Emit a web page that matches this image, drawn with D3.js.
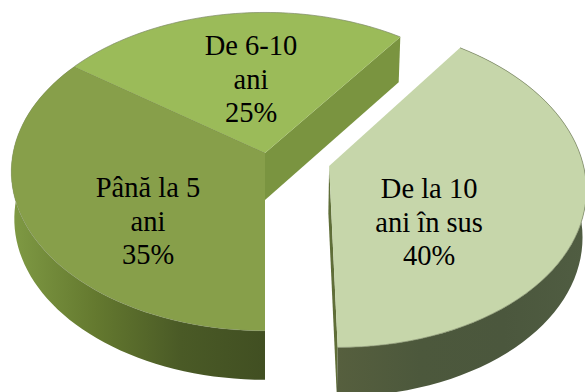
<html>
<head>
<meta charset="utf-8">
<style>
    body { margin: 0; background: #fff; overflow: hidden; }
    svg { display: block; }
    text { font-family: "Liberation Serif", serif; font-size: 28.5px; fill: #000; text-anchor: middle; }
</style>
</head>
<body>
<script src="https://d3js.org/d3.v7.min.js"></script>
<script>
// chart values, clockwise from the exploded slice
var labels = [["De la 10", "ani în sus"], ["Până la 5", "ani"], ["De 6-10", "ani"]];
var values = [40, 35, 25];
var explode = [0.265, 0, 0];

// colours per slice
var topColors = ["#c6d6aa", "#879f4a", "#9bbb59"];
var wallColors = ["#5f6e38", "#5f6e38", "#7a9440"];
var sideStops = [["#565f3e", "#4c583c", "#4b573d", "#505d42"],
                 ["#414f22", "#4a5a26", "#64792f", "#7f9a44"],
                 ["#7a9440", "#7a9440", "#7a9440", "#7a9440"]];

// label offset from each slice apex
var labelOffset = [[100, 54], [-117, 66], [-14, -76]];

var width = 585, height = 392;
var cx = 265, cy = 153, rx = 252, ry = 157, persp = 0.117;

var svg = d3.select("body").append("svg").attr("width", width).attr("height", height);
var defs = svg.append("defs");

var pie = d3.pie().sort(null).startAngle(Math.PI / 5).endAngle(Math.PI / 5 + 2 * Math.PI);
var slices = pie(values);

// perspective projection of a point on the pie plane, z is 0 on top and 1 at the base
function project(px, py, z) {
    var w = 1 + persp * py;
    return [cx + rx * px / w * (1 - 0.012 * z), cy - ry * py / w + z * (47 - 2 * py)];
}

function rimPoints(d, i, z) {
    var mid = (d.startAngle + d.endAngle) / 2;
    var ox = explode[i] * Math.sin(mid), oy = explode[i] * Math.cos(mid);
    return d3.range(0, 61).map(function(k) {
        var a = d.startAngle + (d.endAngle - d.startAngle) * k / 60;
        return project(ox + Math.sin(a), oy + Math.cos(a), z);
    });
}

function apex(d, i, z) {
    var mid = (d.startAngle + d.endAngle) / 2;
    return project(explode[i] * Math.sin(mid), explode[i] * Math.cos(mid), z);
}

var line = d3.line();
var draw = [2, 1, 0]; // back slice first

draw.forEach(function(i) {
    var d = slices[i];
    var topRim = rimPoints(d, i, 0), baseRim = rimPoints(d, i, 1);
    var a0 = apex(d, i, 0), a1 = apex(d, i, 1);
    var g = svg.append("g").attr("class", "slice");

    // side gradient runs across the rim
    var xs = d3.extent(topRim, function(p) { return p[0]; });
    var grad = defs.append("linearGradient").attr("id", "side" + i)
        .attr("gradientUnits", "userSpaceOnUse")
        .attr("x1", i == 1 ? xs[1] : xs[0]).attr("x2", i == 1 ? xs[0] : xs[1])
        .attr("y1", 0).attr("y2", 0);
    sideStops[i].forEach(function(c, k) {
        grad.append("stop").attr("offset", k / 3).attr("stop-color", c);
    });

    // cut wall at the end of the slice
    g.append("path")
        .attr("d", line([a0, topRim[60], baseRim[60], a1]) + "Z")
        .attr("fill", wallColors[i]);

    // outer wall, the back slice has none in view
    if (i != 2) {
        g.append("path")
            .attr("d", line(topRim.concat(baseRim.slice().reverse())) + "Z")
            .attr("fill", "url(#side" + i + ")");
    }

    // top face
    g.append("path")
        .attr("d", line([a0].concat(topRim)) + "Z")
        .attr("fill", topColors[i]);
    g.append("path")
        .attr("d", line(topRim))
        .attr("fill", "none")
        .attr("stroke", "#7f8a68")
        .attr("stroke-opacity", i == 1 ? 0.35 : 0.7);
});

// labels
slices.forEach(function(d, i) {
    var a = apex(d, i, 0);
    var t = svg.append("text")
        .attr("x", a[0] + labelOffset[i][0])
        .attr("y", a[1] + labelOffset[i][1] - 22);
    labels[i].concat(d.data + "%").forEach(function(s, k) {
        t.append("tspan")
            .attr("x", a[0] + labelOffset[i][0])
            .attr("dy", k == 0 ? 0 : 33.7)
            .text(s);
    });
});
</script>
</body>
</html>
